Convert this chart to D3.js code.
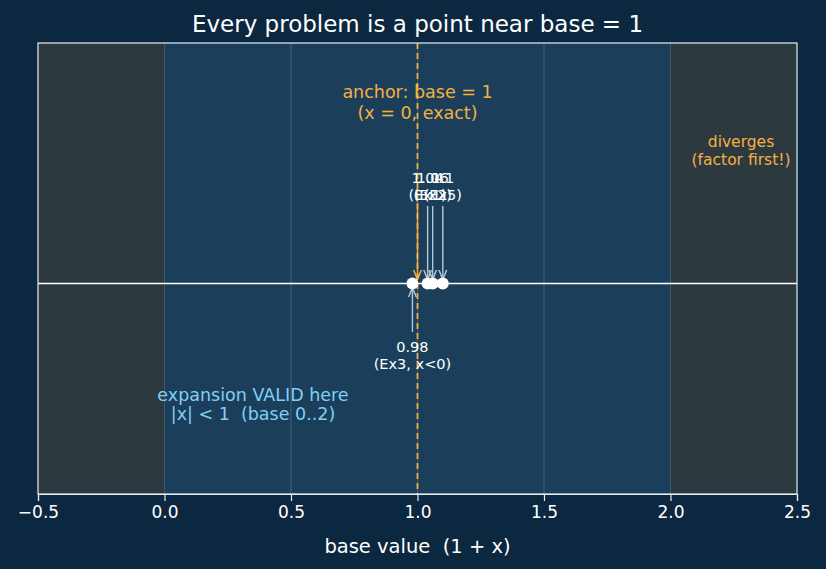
<!DOCTYPE html>
<html><head><meta charset="utf-8">
<script src="https://cdn.jsdelivr.net/npm/d3@7"></script>
<style>body{margin:0;background:#0c2740;} svg{display:block;font-family:"DejaVu Sans",sans-serif;}</style>
</head><body>
<svg id="c" width="826" height="569"></svg>
<script>
const xTicks = [-0.5, 0.0, 0.5, 1.0, 1.5, 2.0, 2.5];
const validRange = [0, 2];
const anchorBase = 1;
const abovePoints = [1.04, 1.06, 1.1];
const aboveLabels = ["1.04", "1.06", "1.1"];
const aboveEx = ["(Ex1)", "(Ex2)", "(Ex5)"];
const belowPoints = [0.98];
const belowLabels = ["0.98"];
const belowEx = ["(Ex3, x<0)"];

const W = 826, H = 569;
const m = {l: 38, r: 29, t: 43, b: 75};
const svg = d3.select("#c");
svg.append("rect").attr("width", W).attr("height", H).attr("fill", "#0c2740");
const x = d3.scaleLinear().domain([-0.5, 2.5]).range([m.l, W - m.r]);
const y = d3.scaleLinear().domain([-0.7, 0.8]).range([H - m.b, m.t]);

const defs = svg.append("defs");
function marker(id, col) {
  defs.append("marker").attr("id", id).attr("viewBox", "0 0 10 10").attr("refX", 10).attr("refY", 5)
    .attr("markerWidth", 7).attr("markerHeight", 7).attr("orient", "auto-start-reverse")
    .append("path").attr("d", "M0,1 L10,5 L0,9").attr("fill", "none").attr("stroke", col).attr("stroke-width", 1.5);
}
marker("ag", "#b8c7d6");
marker("ao", "#f5b041");

const g = svg.append("g");
g.append("rect").attr("x", x(-0.5)).attr("y", m.t).attr("width", x(validRange[0]) - x(-0.5)).attr("height", y(-0.7) - m.t).attr("fill", "#2c3a3f");
g.append("rect").attr("x", x(validRange[1])).attr("y", m.t).attr("width", x(2.5) - x(validRange[1])).attr("height", y(-0.7) - m.t).attr("fill", "#2c3a3f");
g.append("rect").attr("x", x(validRange[0])).attr("y", m.t).attr("width", x(validRange[1]) - x(validRange[0])).attr("height", y(-0.7) - m.t).attr("fill", "#1b3f5b");
g.selectAll(".gl").data(xTicks.slice(1, -1)).enter().append("line")
  .attr("x1", d => x(d)).attr("x2", d => x(d)).attr("y1", m.t).attr("y2", y(-0.7))
  .attr("stroke", "#ffffff").attr("stroke-opacity", 0.22).attr("stroke-width", 0.8);
g.append("line").attr("x1", x(-0.5)).attr("x2", x(2.5)).attr("y1", y(0)).attr("y2", y(0)).attr("stroke", "#ffffff").attr("stroke-width", 1.6);
g.append("line").attr("x1", x(anchorBase)).attr("x2", x(anchorBase)).attr("y1", m.t).attr("y2", y(-0.7))
  .attr("stroke", "#f5b041").attr("stroke-width", 1.8).attr("stroke-dasharray", "6,4");

const orange = "#f5b041";
g.append("text").attr("x", x(anchorBase)).attr("y", 98).attr("text-anchor", "middle").attr("fill", orange).attr("font-size", 17.5).text("anchor: base = 1");
g.append("text").attr("x", x(anchorBase)).attr("y", 119).attr("text-anchor", "middle").attr("fill", orange).attr("font-size", 17.5).text("(x = 0, exact)");
g.append("line").attr("x1", x(anchorBase)).attr("x2", x(anchorBase)).attr("y1", 205).attr("y2", y(0) - 4)
  .attr("stroke", orange).attr("stroke-width", 1.4).attr("marker-end", "url(#ao)");

abovePoints.forEach((p, i) => {
  g.append("line").attr("x1", x(p)).attr("x2", x(p)).attr("y1", 206).attr("y2", y(0) - 4)
    .attr("stroke", "#b8c7d6").attr("stroke-width", 1.4).attr("marker-end", "url(#ag)");
  g.append("text").attr("x", x(p)).attr("y", 183).attr("text-anchor", "middle").attr("fill", "#ffffff").attr("font-size", 14.5).text(aboveLabels[i]);
  g.append("text").attr("x", x(p)).attr("y", 200).attr("text-anchor", "middle").attr("fill", "#ffffff").attr("font-size", 14.5).text(aboveEx[i]);
});
belowPoints.forEach((p, i) => {
  g.append("line").attr("x1", x(p)).attr("x2", x(p)).attr("y1", 332).attr("y2", y(0) + 4)
    .attr("stroke", "#b8c7d6").attr("stroke-width", 1.4).attr("marker-end", "url(#ag)");
  g.append("text").attr("x", x(p)).attr("y", 352).attr("text-anchor", "middle").attr("fill", "#ffffff").attr("font-size", 14.5).text(belowLabels[i]);
  g.append("text").attr("x", x(p)).attr("y", 369).attr("text-anchor", "middle").attr("fill", "#ffffff").attr("font-size", 14.5).text(belowEx[i]);
});
g.selectAll(".pt").data(belowPoints.concat(abovePoints)).enter().append("circle")
  .attr("cx", d => x(d)).attr("cy", y(0)).attr("r", 6).attr("fill", "#ffffff");

g.append("text").attr("x", 741).attr("y", 147).attr("text-anchor", "middle").attr("fill", orange).attr("font-size", 15.5).text("diverges");
g.append("text").attr("x", 741).attr("y", 165).attr("text-anchor", "middle").attr("fill", orange).attr("font-size", 15.5).text("(factor first!)");
g.append("text").attr("x", 253).attr("y", 401).attr("text-anchor", "middle").attr("fill", "#7fd0f5").attr("font-size", 17.5).text("expansion VALID here");
g.append("text").attr("x", 253).attr("y", 420).attr("text-anchor", "middle").attr("fill", "#7fd0f5").attr("font-size", 17.5).style("white-space", "pre").text("|x| < 1  (base 0..2)");

g.append("rect").attr("x", m.l).attr("y", m.t).attr("width", x(2.5) - m.l).attr("height", y(-0.7) - m.t)
  .attr("fill", "none").attr("stroke", "#e6edf3").attr("stroke-width", 1.2);

const ax = svg.append("g").attr("transform", `translate(0,${y(-0.7)})`)
  .call(d3.axisBottom(x).tickValues(xTicks).tickSize(7).tickPadding(5).tickFormat(d => d3.format(".1f")(d).replace("-", "\u2212")));
ax.select(".domain").attr("stroke", "#e6edf3").attr("stroke-width", 1.2);
ax.selectAll(".tick line").attr("stroke", "#e6edf3").attr("stroke-width", 1.2);
ax.selectAll(".tick text").attr("fill", "#ffffff").attr("font-size", 17).attr("font-family", "DejaVu Sans");

svg.append("text").attr("x", (m.l + W - m.r) / 2).attr("y", 553).attr("text-anchor", "middle").attr("fill", "#ffffff").attr("font-size", 19.5).style("white-space", "pre").text("base value  (1 + x)");
svg.append("text").attr("x", (m.l + W - m.r) / 2).attr("y", 32).attr("text-anchor", "middle").attr("fill", "#ffffff").attr("font-size", 23).text("Every problem is a point near base = 1");
</script>
</body></html>
